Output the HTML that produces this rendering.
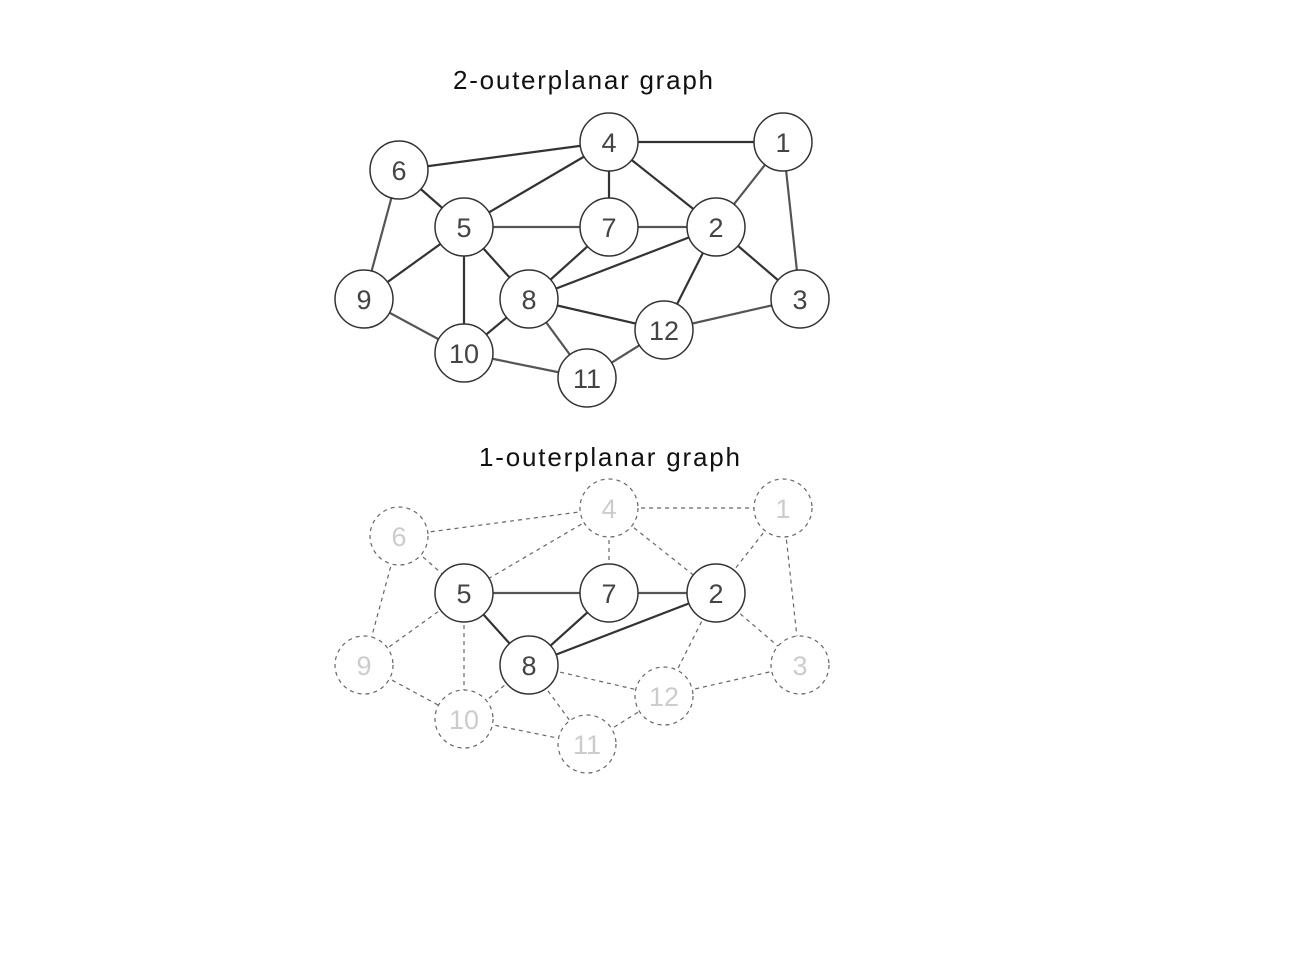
<!DOCTYPE html>
<html><head><meta charset="utf-8"><style>
html,body{margin:0;padding:0;background:#fff;}
svg{display:block;}
text{font-family:"Liberation Sans","DejaVu Sans",sans-serif;}
</style></head><body>
<svg width="1300" height="975" viewBox="0 0 1300 975" xmlns="http://www.w3.org/2000/svg">
<text x="453" y="89" font-size="26" textLength="260" lengthAdjust="spacing" fill="#111">2-outerplanar graph</text>
<text x="479" y="466" font-size="26" textLength="261" lengthAdjust="spacing" fill="#111">1-outerplanar graph</text>
<g stroke="#333" stroke-width="2.2" fill="none">
<line x1="399" y1="170" x2="609" y2="142"/>
<line x1="609" y1="142" x2="783" y2="142"/>
<line x1="609" y1="142" x2="464" y2="227"/>
<line x1="609" y1="142" x2="609" y2="227"/>
<line x1="609" y1="142" x2="716" y2="227"/>
<line x1="783" y1="142" x2="716" y2="227" stroke="#555"/>
<line x1="783" y1="142" x2="800" y2="299" stroke="#555"/>
<line x1="399" y1="170" x2="464" y2="227"/>
<line x1="399" y1="170" x2="364" y2="299" stroke="#555"/>
<line x1="464" y1="227" x2="609" y2="227" stroke="#555"/>
<line x1="609" y1="227" x2="716" y2="227" stroke="#555"/>
<line x1="464" y1="227" x2="364" y2="299"/>
<line x1="464" y1="227" x2="529" y2="299"/>
<line x1="464" y1="227" x2="464" y2="353"/>
<line x1="609" y1="227" x2="529" y2="299"/>
<line x1="716" y1="227" x2="529" y2="299"/>
<line x1="716" y1="227" x2="800" y2="299"/>
<line x1="716" y1="227" x2="664" y2="330"/>
<line x1="529" y1="299" x2="464" y2="353"/>
<line x1="529" y1="299" x2="664" y2="330"/>
<line x1="529" y1="299" x2="587" y2="378" stroke="#555"/>
<line x1="364" y1="299" x2="464" y2="353" stroke="#555"/>
<line x1="464" y1="353" x2="587" y2="378" stroke="#555"/>
<line x1="587" y1="378" x2="664" y2="330" stroke="#555"/>
<line x1="664" y1="330" x2="800" y2="299" stroke="#555"/>
</g>
<g stroke="#333" stroke-width="1.5" fill="#fff">
<circle cx="609" cy="142" r="29"/><circle cx="783" cy="142" r="29"/>
<circle cx="399" cy="170" r="29"/><circle cx="464" cy="227" r="29"/>
<circle cx="609" cy="227" r="29"/><circle cx="716" cy="227" r="29"/>
<circle cx="364" cy="299" r="29"/><circle cx="529" cy="299" r="29"/>
<circle cx="800" cy="299" r="29"/><circle cx="664" cy="330" r="29"/>
<circle cx="464" cy="353" r="29"/><circle cx="587" cy="378" r="29"/>
</g>
<g font-size="27" fill="#444" text-anchor="middle">
<text x="609" y="152">4</text><text x="783" y="152">1</text>
<text x="399" y="180">6</text><text x="464" y="237">5</text>
<text x="609" y="237">7</text><text x="716" y="237">2</text>
<text x="364" y="309">9</text><text x="529" y="309">8</text>
<text x="800" y="309">3</text><text x="664" y="340">12</text>
<text x="464" y="363">10</text><text x="587" y="388">11</text>
</g>
<g transform="translate(0,366)">
<g stroke="#666" stroke-width="1.2" stroke-dasharray="4,4" fill="none">
<line x1="399" y1="170" x2="609" y2="142"/>
<line x1="609" y1="142" x2="783" y2="142"/>
<line x1="609" y1="142" x2="464" y2="227"/>
<line x1="609" y1="142" x2="609" y2="227"/>
<line x1="609" y1="142" x2="716" y2="227"/>
<line x1="783" y1="142" x2="716" y2="227"/>
<line x1="783" y1="142" x2="800" y2="299"/>
<line x1="399" y1="170" x2="464" y2="227"/>
<line x1="399" y1="170" x2="364" y2="299"/>
<line x1="464" y1="227" x2="364" y2="299"/>
<line x1="464" y1="227" x2="464" y2="353"/>
<line x1="716" y1="227" x2="800" y2="299"/>
<line x1="716" y1="227" x2="664" y2="330"/>
<line x1="529" y1="299" x2="464" y2="353"/>
<line x1="529" y1="299" x2="664" y2="330"/>
<line x1="529" y1="299" x2="587" y2="378"/>
<line x1="364" y1="299" x2="464" y2="353"/>
<line x1="464" y1="353" x2="587" y2="378"/>
<line x1="587" y1="378" x2="664" y2="330"/>
<line x1="664" y1="330" x2="800" y2="299"/>
</g>
<g stroke="#333" stroke-width="2.2">
<line x1="464" y1="227" x2="609" y2="227" stroke="#555"/>
<line x1="609" y1="227" x2="716" y2="227" stroke="#555"/>
<line x1="464" y1="227" x2="529" y2="299"/>
<line x1="609" y1="227" x2="529" y2="299"/>
<line x1="716" y1="227" x2="529" y2="299"/>
</g>
<g stroke="#666" stroke-width="1.2" stroke-dasharray="4,4" fill="#fff">
<circle cx="609" cy="142" r="29"/><circle cx="783" cy="142" r="29"/>
<circle cx="399" cy="170" r="29"/><circle cx="364" cy="299" r="29"/>
<circle cx="800" cy="299" r="29"/><circle cx="664" cy="330" r="29"/>
<circle cx="464" cy="353" r="29"/><circle cx="587" cy="378" r="29"/>
</g>
<g stroke="#333" stroke-width="1.5" fill="#fff">
<circle cx="464" cy="227" r="29"/><circle cx="609" cy="227" r="29"/>
<circle cx="716" cy="227" r="29"/><circle cx="529" cy="299" r="29"/>
</g>
<g font-size="27" fill="#ccc" text-anchor="middle">
<text x="609" y="152">4</text><text x="783" y="152">1</text>
<text x="399" y="180">6</text><text x="364" y="309">9</text>
<text x="800" y="309">3</text><text x="664" y="340">12</text>
<text x="464" y="363">10</text><text x="587" y="388">11</text>
</g>
<g font-size="27" fill="#444" text-anchor="middle">
<text x="464" y="237">5</text><text x="609" y="237">7</text>
<text x="716" y="237">2</text><text x="529" y="309">8</text>
</g>
</g>
</svg>
</body></html>
